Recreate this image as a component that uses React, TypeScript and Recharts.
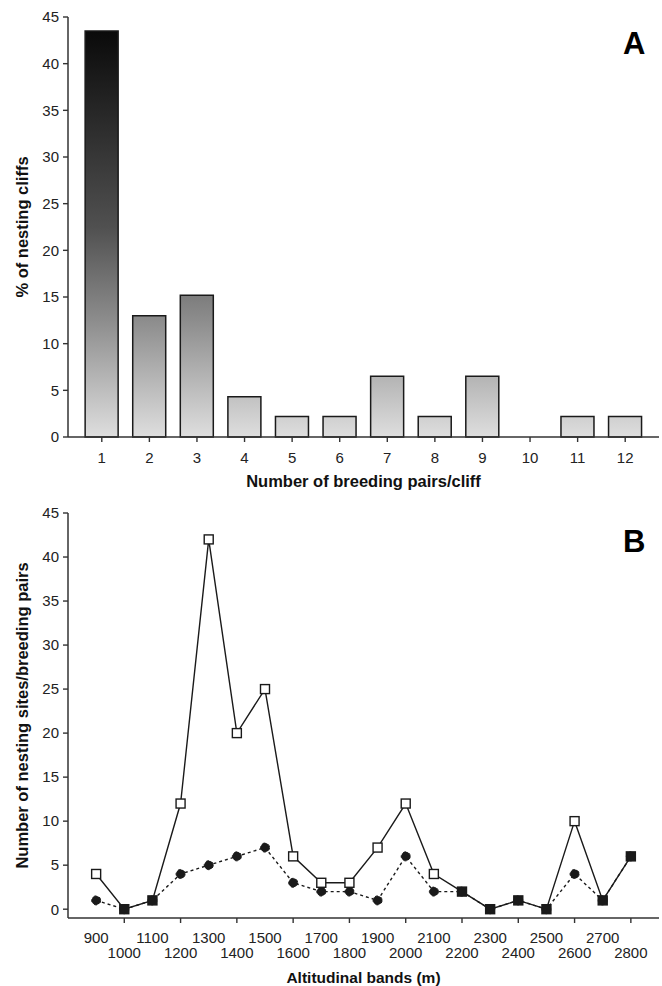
import { Bar, BarChart, Line, LineChart, XAxis, YAxis } from "recharts";

// panel A: share of nesting cliffs by number of breeding pairs on the cliff
const pairsPerCliff = ["1", "2", "3", "4", "5", "6", "7", "8", "9", "10", "11", "12"];
const cliffPercent = [43.5, 13.0, 15.2, 4.3, 2.2, 2.2, 6.5, 2.2, 6.5, 0, 2.2, 2.2];
const percentTicks = [0, 5, 10, 15, 20, 25, 30, 35, 40, 45];

// panel B: counts per altitudinal band
const altitudes = [
  900, 1000, 1100, 1200, 1300, 1400, 1500, 1600, 1700, 1800, 1900, 2000, 2100, 2200, 2300,
  2400, 2500, 2600, 2700, 2800
];
const breedingPairs = [4, 0, 1, 12, 42, 20, 25, 6, 3, 3, 7, 12, 4, 2, 0, 1, 0, 10, 1, 6];
const nestingSites = [1, 0, 1, 4, 5, 6, 7, 3, 2, 2, 1, 6, 2, 2, 0, 1, 0, 4, 1, 6];
const countTicks = [0, 5, 10, 15, 20, 25, 30, 35, 40, 45];

const barData = pairsPerCliff.map((pairs, i) => ({ pairs, percent: cliffPercent[i] }));
const lineData = altitudes.map((alt, i) => ({
  alt,
  pairs: breedingPairs[i],
  sites: nestingSites[i]
}));

const FONT = '"Liberation Sans", Arial, Helvetica, sans-serif';
const INK = "#1a1a1a";
const AXIS = "#333";
const W = 662;

const TOP_H = 495;
const TOP_MARGIN = { top: 17, right: 3, left: 0, bottom: 0 };
const TOP_XAXIS_H = 58;

const BOTTOM_Y = 495;
const BOTTOM_H = 491;
const BOTTOM_MARGIN = { top: 18, right: 3, left: 0, bottom: 0 };

const tickStyle = { fontSize: 15, fill: "#222", fontFamily: FONT };
const titleStyle = { fontSize: 16.5, fontWeight: 700, fill: "#111", fontFamily: FONT };

function AltitudeTick(props: any) {
  const { x, y, payload, index } = props;
  const upperRow = index % 2 === 0;
  return (
    <g>
      {!upperRow ? <line x1={x} y1={y} x2={x} y2={y + 5} stroke={AXIS} strokeWidth={1.4} /> : null}
      <text x={x} y={y + (upperRow ? 25 : 40)} textAnchor="middle" style={tickStyle}>
        {payload.value}
      </text>
    </g>
  );
}

function SquareDot(props: any) {
  const { cx, cy, index } = props;
  if (cx == null || cy == null) return null;
  const same = breedingPairs[index] === nestingSites[index];
  return (
    <rect
      key={`sq-${index}`}
      x={cx - 4.5}
      y={cy - 4.5}
      width={9}
      height={9}
      fill={same ? INK : "#fff"}
      stroke={INK}
      strokeWidth={1.4}
    />
  );
}

function PanelLetter({ text, top }: { text: string; top: number }) {
  return (
    <div
      style={{
        position: "absolute",
        left: 623,
        top,
        fontFamily: FONT,
        fontWeight: 700,
        fontSize: 31,
        lineHeight: 1,
        color: "#000"
      }}
    >
      {text}
    </div>
  );
}

export default function App() {
  const plotTop = TOP_MARGIN.top;
  const plotBottom = TOP_H - TOP_XAXIS_H;

  return (
    <div style={{ position: "absolute", left: 0, top: 0, width: W, height: 986, background: "#fff" }}>
      <BarChart width={W} height={TOP_H} data={barData} margin={TOP_MARGIN} barCategoryGap="15%">
        <defs>
          <linearGradient
            id="barShade"
            gradientUnits="userSpaceOnUse"
            x1={0}
            y1={plotTop}
            x2={0}
            y2={plotBottom}
          >
            <stop offset="0%" stopColor="#050505" />
            <stop offset="50%" stopColor="#505050" />
            <stop offset="72%" stopColor="#8c8c8c" />
            <stop offset="100%" stopColor="#dedede" />
          </linearGradient>
        </defs>
        <XAxis
          dataKey="pairs"
          height={TOP_XAXIS_H}
          padding={{ left: 10, right: 10 }}
          interval={0}
          tick={tickStyle}
          tickSize={5}
          tickMargin={10}
          axisLine={{ stroke: AXIS, strokeWidth: 1.5 }}
          tickLine={{ stroke: AXIS, strokeWidth: 1.4 }}
          label={{
            value: "Number of breeding pairs/cliff",
            position: "insideBottom",
            offset: 8,
            style: titleStyle
          }}
        />
        <XAxis
          xAxisId="top"
          orientation="top"
          dataKey="pairs"
          height={0}
          tick={false}
          tickLine={false}
          axisLine={{ stroke: AXIS, strokeWidth: 1.5 }}
        />
        <YAxis
          width={68}
          domain={[0, 45]}
          ticks={percentTicks}
          interval={0}
          tick={tickStyle}
          tickSize={5}
          tickMargin={4}
          axisLine={{ stroke: AXIS, strokeWidth: 1.5 }}
          tickLine={{ stroke: AXIS, strokeWidth: 1.4 }}
          label={{
            value: "% of nesting cliffs",
            angle: -90,
            position: "insideLeft",
            offset: 22,
            style: { ...titleStyle, textAnchor: "middle" }
          }}
        />
        <YAxis
          yAxisId="right"
          orientation="right"
          width={0}
          domain={[0, 45]}
          tick={false}
          tickLine={false}
          axisLine={{ stroke: AXIS, strokeWidth: 1.5 }}
        />
        <Bar
          dataKey="percent"
          fill="url(#barShade)"
          stroke={INK}
          strokeWidth={1.5}
          isAnimationActive={false}
        />
      </BarChart>
      <PanelLetter text="A" top={28} />

      <div style={{ position: "absolute", left: 0, top: BOTTOM_Y }}>
        <LineChart width={W} height={BOTTOM_H} data={lineData} margin={BOTTOM_MARGIN}>
          <XAxis
            dataKey="alt"
            type="number"
            domain={[800, 2900]}
            ticks={altitudes}
            interval={0}
            height={68}
            tick={<AltitudeTick />}
            tickLine={false}
            tickSize={0}
            tickMargin={0}
            axisLine={{ stroke: AXIS, strokeWidth: 1.5 }}
            label={{
              value: "Altitudinal bands (m)",
              position: "insideBottom",
              offset: 3,
              style: { ...titleStyle, fontSize: 15.5 }
            }}
          />
          <XAxis
            xAxisId="top"
            orientation="top"
            dataKey="alt"
            type="number"
            domain={[800, 2900]}
            height={0}
            tick={false}
            tickLine={false}
            axisLine={{ stroke: AXIS, strokeWidth: 1.5 }}
          />
          <YAxis
            width={68}
            domain={[-1, 45]}
            ticks={countTicks}
            interval={0}
            tick={tickStyle}
            tickSize={5}
            tickMargin={4}
            axisLine={{ stroke: AXIS, strokeWidth: 1.5 }}
            tickLine={{ stroke: AXIS, strokeWidth: 1.4 }}
            label={{
              value: "Number of nesting sites/breeding pairs",
              angle: -90,
              position: "insideLeft",
              offset: 22,
              style: { ...titleStyle, textAnchor: "middle" }
            }}
          />
          <YAxis
            yAxisId="right"
            orientation="right"
            width={0}
            domain={[-1, 45]}
            tick={false}
            tickLine={false}
            axisLine={{ stroke: AXIS, strokeWidth: 1.5 }}
          />
          <Line
            dataKey="sites"
            type="linear"
            stroke={INK}
            strokeWidth={1.4}
            strokeDasharray="3 3"
            dot={{ r: 4.5, fill: INK, stroke: INK, strokeWidth: 1 }}
            isAnimationActive={false}
          />
          <Line
            dataKey="pairs"
            type="linear"
            stroke={INK}
            strokeWidth={1.4}
            dot={<SquareDot />}
            isAnimationActive={false}
          />
        </LineChart>
        <PanelLetter text="B" top={31} />
      </div>
    </div>
  );
}
